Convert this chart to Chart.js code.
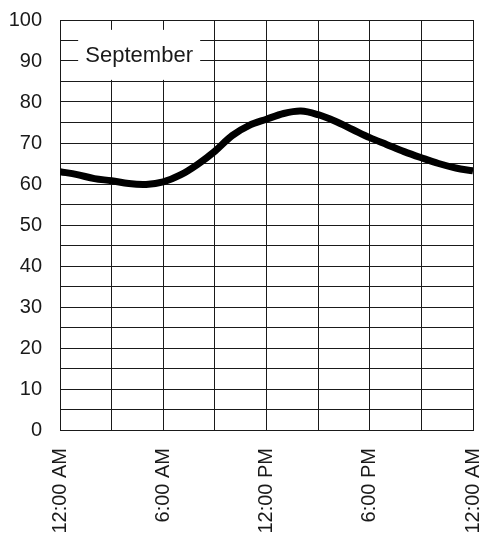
<!DOCTYPE html>
<html>
<head>
<meta charset="utf-8">
<script src="https://cdn.jsdelivr.net/npm/chart.js@4.4.1/dist/chart.umd.min.js"></script>
<style>
  html, body { margin: 0; padding: 0; background: #fff; }
  #wrap { width: 488px; height: 540px; }
</style>
</head>
<body>
<div id="wrap"><canvas id="tempChart"></canvas></div>
<script>
// Hourly temperature, one September day
const hours = [0, 1, 2, 3, 4, 5, 6, 7, 8, 9, 10, 11, 12, 13, 14, 15, 16, 17, 18, 19, 20, 21, 22, 23, 24];
const temps = [63, 62.3, 61.3, 60.8, 60.1, 59.9, 60.5, 62.2, 64.8, 68, 71.8, 74.3, 75.8, 77.2, 77.8, 76.9, 75.3, 73.3, 71.3, 69.6, 67.9, 66.4, 65, 63.9, 63.2];
const gridHours = [0, 3, 6, 9, 12, 15, 18, 21, 24];
const labelHours = [0, 6, 12, 18, 24];
const labelTexts = ['12:00 AM', '6:00 AM', '12:00 PM', '6:00 PM', '12:00 AM'];
const gridTemps = [0, 5, 10, 15, 20, 25, 30, 35, 40, 45, 50, 55, 60, 65, 70, 75, 80, 85, 90, 95, 100];
const monthName = 'September';

const fontFamily = '"Liberation Sans", Arial, sans-serif';
const ink = '#1a1a1a';

// white box with the month name, sitting on the grid
const monthBox = {
  id: 'monthBox',
  beforeDatasetsDraw(chart) {
    const { ctx, scales } = chart;
    const cx = scales.x.getPixelForValue(4.6);
    const cy = scales.y.getPixelForValue(91.5);
    ctx.save();
    ctx.fillStyle = '#fff';
    ctx.fillRect(cx - 61, cy - 25, 122, 50);
    ctx.fillStyle = ink;
    ctx.font = '22px ' + fontFamily;
    ctx.textAlign = 'center';
    ctx.textBaseline = 'middle';
    ctx.fillText(monthName, cx, cy + 1);
    ctx.restore();
  }
};

new Chart(document.getElementById('tempChart'), {
  type: 'line',
  data: {
    datasets: [{
      data: hours.map((h, i) => ({ x: h, y: temps[i] })),
      borderColor: '#000',
      borderWidth: 7,
      pointRadius: 0,
      tension: 0.35,
      fill: false
    }]
  },
  options: {
    responsive: true,
    maintainAspectRatio: false,
    animation: false,
    layout: { padding: 0 },
    plugins: { legend: { display: false }, tooltip: { enabled: false } },
    scales: {
      x: {
        type: 'linear',
        min: 0,
        max: 24,
        afterBuildTicks(axis) {
          axis.ticks = gridHours.map(v => ({ value: v }));
        },
        afterFit(axis) {
          axis.height = 110;
          axis.paddingLeft = 0;
          axis.paddingRight = 15;
        },
        ticks: {
          autoSkip: false,
          maxRotation: 90,
          minRotation: 90,
          padding: 18,
          color: ink,
          font: { family: fontFamily, size: 20 },
          callback: v => {
            const i = labelHours.indexOf(v);
            return i >= 0 ? labelTexts[i] : '';
          }
        },
        grid: { color: ink, lineWidth: 1, drawTicks: false },
        border: { color: ink, width: 1 }
      },
      y: {
        min: 0,
        max: 100,
        afterBuildTicks(axis) {
          axis.ticks = gridTemps.map(v => ({ value: v }));
        },
        afterFit(axis) {
          axis.width = 60;
          axis.paddingTop = 20;
          axis.paddingBottom = 0;
        },
        ticks: {
          autoSkip: false,
          padding: 18,
          color: ink,
          font: { family: fontFamily, size: 20 },
          callback: v => (v % 10 === 0 ? v : '')
        },
        grid: { color: ink, lineWidth: 1, drawTicks: false },
        border: { color: ink, width: 1 }
      }
    }
  },
  plugins: [monthBox]
});
</script>
</body>
</html>
